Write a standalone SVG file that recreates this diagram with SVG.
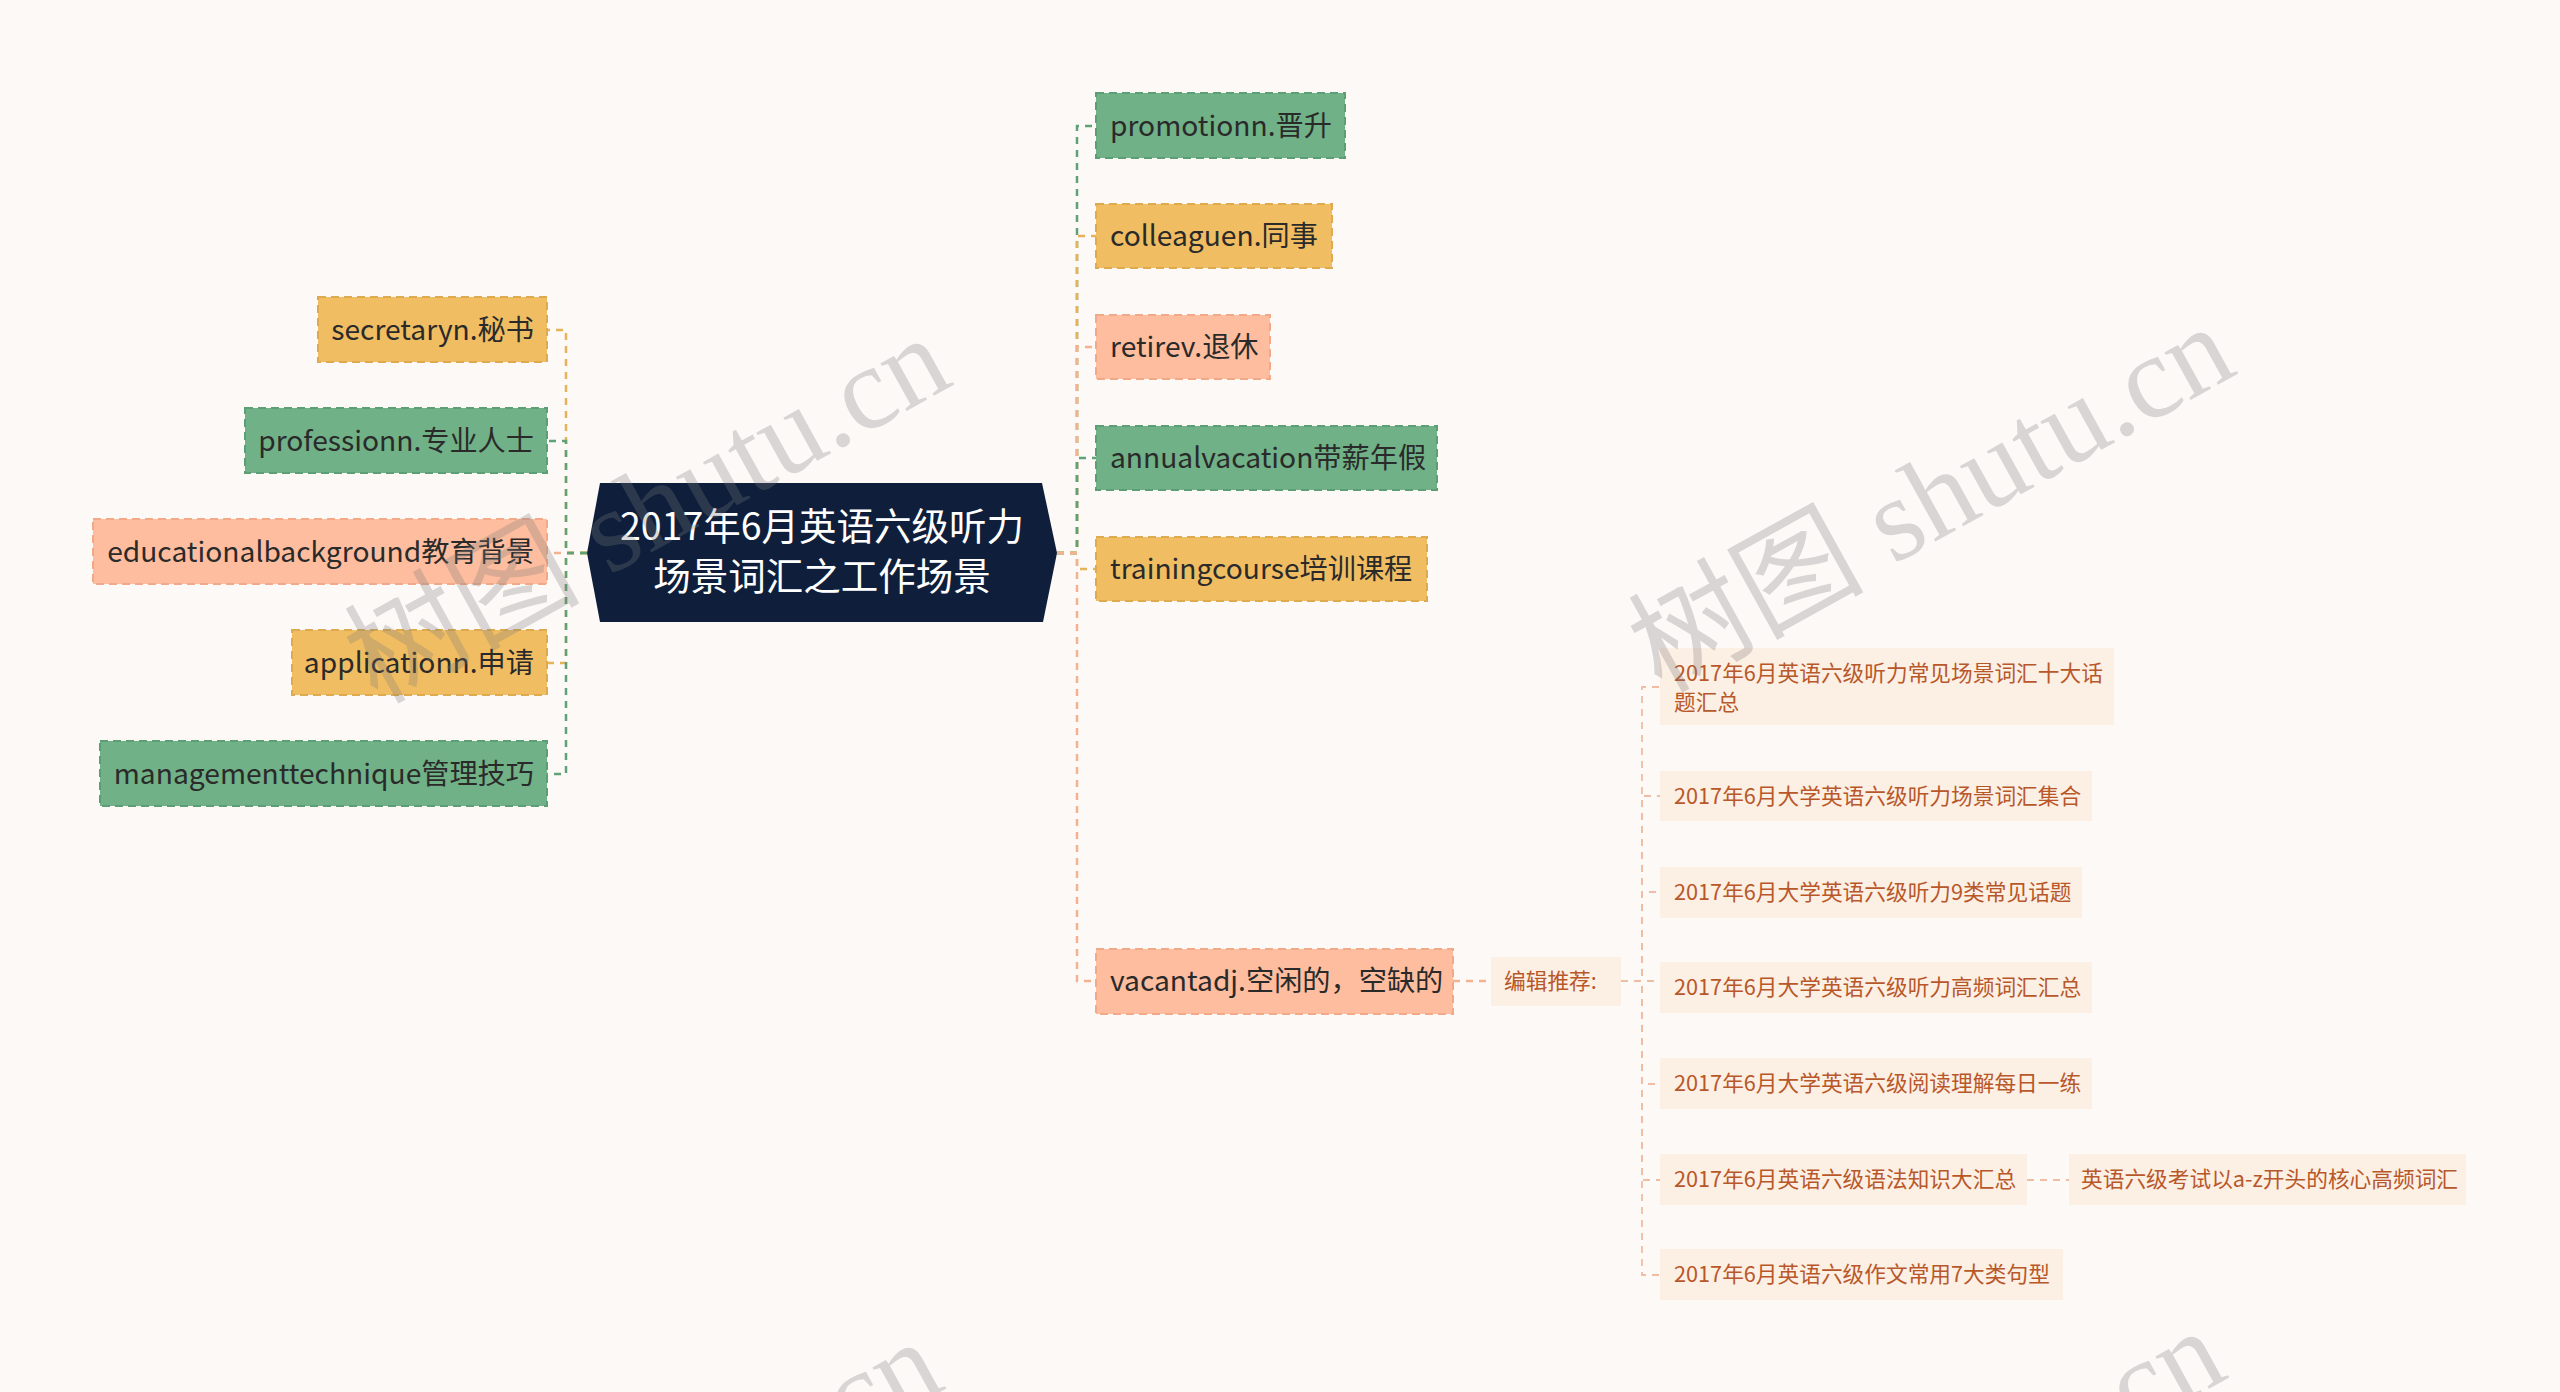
<svg xmlns="http://www.w3.org/2000/svg" width="2560" height="1392" viewBox="0 0 2560 1392">
<style>
.bg{fill:#fcf9f7}
.t{font-family:"Noto Sans CJK SC","Noto Sans",sans-serif;font-size:28.2px;fill:#2a2a2a}
.ts{font-family:"Noto Sans CJK SC","Noto Sans",sans-serif;font-size:21.7px;fill:#b8582a}
.tc{font-family:"Noto Sans CJK SC","Noto Sans",sans-serif;font-size:37.5px;fill:#ffffff}
.g{fill:#70b187;stroke:#5c9f74;stroke-width:2;stroke-dasharray:8 5}
.y{fill:#f0bd62;stroke:#deaa4f;stroke-width:2;stroke-dasharray:8 5}
.s{fill:#fdbd9e;stroke:#f2a987;stroke-width:2;stroke-dasharray:8 5}
.p{fill:#fcefe4}
.c{fill:none;stroke-width:2.5;stroke-dasharray:7 6}
.cg{stroke:#5fa278}.cy{stroke:#e6b457}.cs{stroke:#f3b391}
.cl{fill:none;stroke:#efbea2;stroke-width:1.8;stroke-dasharray:7 6}
.wm{font-family:"Liberation Serif","Noto Sans CJK SC",serif;font-size:118px;fill:#7a7a7a;fill-opacity:0.28}
</style>
<rect class="bg" x="0" y="0" width="2560" height="1392"/>
<g id="connectors">
<path class="c cy" d="M587,553 H566 V330 H547"/>
<path class="c cg" d="M587,553 H566 V441 H547"/>
<path class="c cs" d="M587,553 H547"/>
<path class="c cy" d="M587,553 H566 V663 H547"/>
<path class="c cg" d="M587,553 H566 V774 H547"/>
<path class="c cg" d="M1057,553 H1077 V126 H1096"/>
<path class="c cy" d="M1057,553 H1077 V236 H1096"/>
<path class="c cs" d="M1057,553 H1077 V347 H1096"/>
<path class="c cg" d="M1057,553 H1077 V458 H1096"/>
<path class="c cy" d="M1057,553 H1077 V569 H1096"/>
<path class="c cs" d="M1057,553 H1077 V981 H1096"/>
<path class="c cs" d="M1453,981 H1491"/>
<path class="cl" d="M1621,981 H1642 V687 H1660"/>
<path class="cl" d="M1621,981 H1642 V796 H1660"/>
<path class="cl" d="M1621,981 H1642 V892 H1660"/>
<path class="cl" d="M1621,981 H1660"/>
<path class="cl" d="M1621,981 H1642 V1084 H1660"/>
<path class="cl" d="M1621,981 H1642 V1180 H1660"/>
<path class="cl" d="M1621,981 H1642 V1275 H1660"/>
<path class="cl" d="M2027,1180 H2069"/>
</g>
<g id="center">
<polygon points="600,483 1042,483 1057,553 1043,622 600,622 587,553" fill="#0f1f3b"/>
<text class="tc" x="822" y="540" text-anchor="middle">2017年6月英语六级听力</text>
<text class="tc" x="822" y="590" text-anchor="middle">场景词汇之工作场景</text>
</g>
<g id="n-secretary"><rect class="y" x="318" y="297" width="229" height="65"/><text class="t" x="534" y="340" text-anchor="end">secretaryn.秘书</text></g>
<g id="n-profession"><rect class="g" x="245" y="408" width="302" height="65"/><text class="t" x="534" y="451" text-anchor="end">professionn.专业人士</text></g>
<g id="n-education"><rect class="s" x="93" y="519" width="454" height="65"/><text class="t" x="534" y="562" text-anchor="end">educationalbackground教育背景</text></g>
<g id="n-application"><rect class="y" x="292" y="630" width="255" height="65"/><text class="t" x="534" y="673" text-anchor="end">applicationn.申请</text></g>
<g id="n-management"><rect class="g" x="100" y="741" width="447" height="65"/><text class="t" x="534" y="784" text-anchor="end">managementtechnique管理技巧</text></g>
<g id="n-promotion"><rect class="g" x="1096" y="93" width="249" height="65"/><text class="t" x="1110" y="136">promotionn.晋升</text></g>
<g id="n-colleague"><rect class="y" x="1096" y="204" width="236" height="64"/><text class="t" x="1110" y="246">colleaguen.同事</text></g>
<g id="n-retire"><rect class="s" x="1096" y="315" width="174" height="64"/><text class="t" x="1110" y="357">retirev.退休</text></g>
<g id="n-annual"><rect class="g" x="1096" y="426" width="341" height="64"/><text class="t" x="1110" y="468">annualvacation带薪年假</text></g>
<g id="n-training"><rect class="y" x="1096" y="537" width="331" height="64"/><text class="t" x="1110" y="579">trainingcourse培训课程</text></g>
<g id="n-vacant"><rect class="s" x="1096" y="949" width="357" height="65"/><text class="t" x="1110" y="991">vacantadj.空闲的，空缺的</text></g>
<g id="n-editor"><rect class="p" x="1491" y="957" width="130" height="49"/><text class="ts" x="1504" y="989">编辑推荐:</text></g>
<g id="n-r1"><rect class="p" x="1660" y="648" width="454" height="77"/><text class="ts" x="1674" y="681">2017年6月英语六级听力常见场景词汇十大话</text><text class="ts" x="1674" y="710">题汇总</text></g>
<g id="n-r2"><rect class="p" x="1660" y="771" width="432" height="50"/><text class="ts" x="1674" y="804">2017年6月大学英语六级听力场景词汇集合</text></g>
<g id="n-r3"><rect class="p" x="1660" y="867" width="422" height="51"/><text class="ts" x="1674" y="900">2017年6月大学英语六级听力9类常见话题</text></g>
<g id="n-r4"><rect class="p" x="1660" y="962" width="432" height="51"/><text class="ts" x="1674" y="995">2017年6月大学英语六级听力高频词汇汇总</text></g>
<g id="n-r5"><rect class="p" x="1660" y="1058" width="432" height="51"/><text class="ts" x="1674" y="1091">2017年6月大学英语六级阅读理解每日一练</text></g>
<g id="n-r6"><rect class="p" x="1660" y="1154" width="367" height="51"/><text class="ts" x="1674" y="1187">2017年6月英语六级语法知识大汇总</text></g>
<g id="n-r6a"><rect class="p" x="2069" y="1154" width="397" height="51"/><text class="ts" x="2081" y="1187">英语六级考试以a-z开头的核心高频词汇</text></g>
<g id="n-r7"><rect class="p" x="1660" y="1249" width="403" height="51"/><text class="ts" x="1674" y="1282">2017年6月英语六级作文常用7大类句型</text></g>
<g id="watermarks">
<text class="wm" text-anchor="middle" transform="translate(648,511) rotate(-29)" y="38">树图 shutu.cn</text>
<text class="wm" text-anchor="middle" transform="translate(1932,500) rotate(-29)" y="38">树图 shutu.cn</text>
<text class="wm" text-anchor="middle" transform="translate(640,1515) rotate(-29)" y="38">树图 shutu.cn</text>
<text class="wm" text-anchor="middle" transform="translate(1923,1504) rotate(-29)" y="38">树图 shutu.cn</text>
</g>
</svg>
